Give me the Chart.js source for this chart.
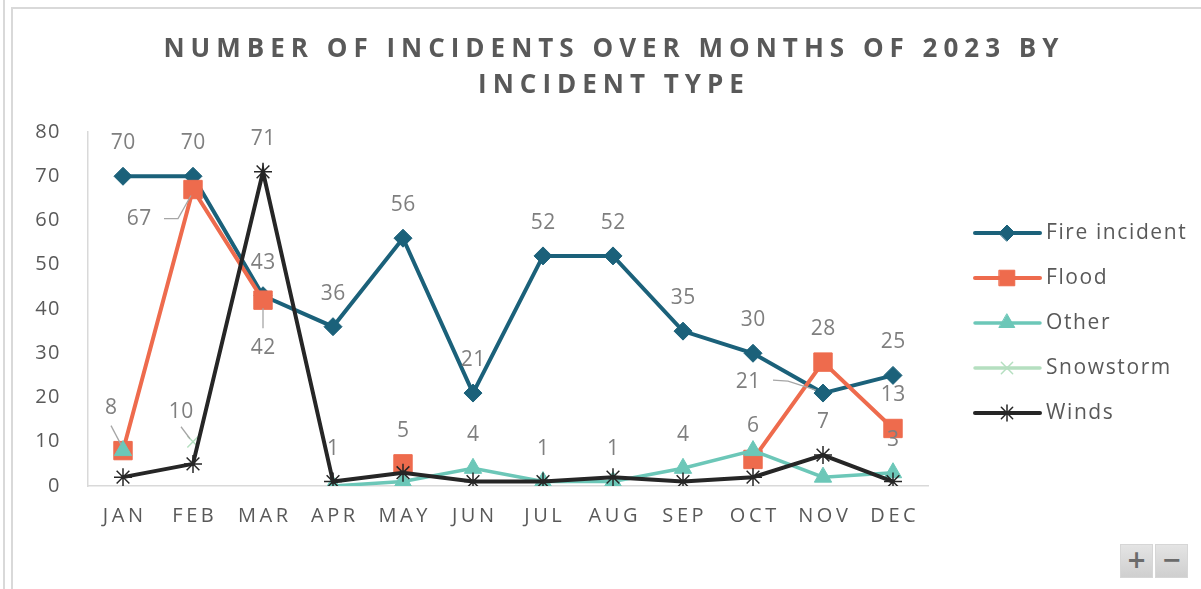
<!DOCTYPE html>
<html>
<head>
<meta charset="utf-8">
<script src="https://cdn.jsdelivr.net/npm/chart.js@4.4.1/dist/chart.umd.min.js"></script>
<style>
  html, body { margin: 0; padding: 0; background: #fff; }
  #wrap { position: relative; width: 1201px; height: 589px; overflow: hidden; background: #fff; }
  #chart { position: absolute; left: 0; top: 0; }
  .frame { position: absolute; background: #d9d9d9; }
  #title {
    position: absolute; left: 0; top: 29px; width: 1228px; text-align: center;
    font-family: "Open Sans", sans-serif; font-weight: bold; font-size: 26px;
    line-height: 36px; letter-spacing: 6px; color: #595959; white-space: nowrap;
  }
  .zbtn {
    position: absolute; top: 544px; width: 33px; height: 34px;
    background: linear-gradient(#e4e4e4, #cfcfcf); border: 1px solid #d6d6d6; box-sizing: border-box;
    color: #6b6b6b; font-family: "DejaVu Sans", sans-serif; font-size: 24px; font-weight: bold;
    line-height: 31px; text-align: center;
  }
</style>
</head>
<body>
<div id="wrap">
  <div class="frame" style="left:3px;top:0;width:2px;height:589px"></div>
  <div class="frame" style="left:11px;top:7px;width:2px;height:582px"></div>
  <div class="frame" style="left:11px;top:7px;width:1190px;height:2px"></div>
  <canvas id="chart" width="1201" height="589"></canvas>
  <div id="title">NUMBER OF INCIDENTS OVER MONTHS OF 2023 BY<br>INCIDENT TYPE</div>
  <div class="zbtn" style="left:1120px">+</div>
  <div class="zbtn" style="left:1155px">&minus;</div>
</div>
<script>
// months on the x axis
var months = ['JAN', 'FEB', 'MAR', 'APR', 'MAY', 'JUN', 'JUL', 'AUG', 'SEP', 'OCT', 'NOV', 'DEC'];
var yTicks = [0, 10, 20, 30, 40, 50, 60, 70, 80];

// values (null = no point that month)
var fireIncident = [70, 70, 43, 36, 56, 21, 52, 52, 35, 30, 21, 25];
var flood        = [8, 67, 42, null, 5, null, null, null, null, 6, 28, 13];
var other        = [8, null, null, 0, 1, 4, 1, 1, 4, 8, 2, 3];
var snowstorm    = [null, 10, null, null, null, null, null, null, null, null, null, null];
var winds        = [2, 5, 71, 1, 3, 1, 1, 2, 1, 2, 7, 1];

var labelGray = '#7f7f7f';
var axisGray = '#595959';
var fontName = '"Open Sans", sans-serif';

// which points get a value label, and the few that sit away from the point
var labelPlan = [
  { show: [0,1,2,3,4,5,6,7,8,9,10,11], moved: { 10: { dx: -75, dy: -11, leader: [[-50,-13],[-35,-12],[-7,-3]] } } },
  { show: [0,1,2,4,9,10,11], moved: {
      0: { dx: -12, dy: -43, leader: [[-12,-25],[-2,-6]] },
      1: { dx: -54, dy: 29, leader: [[-29,29],[-15,29],[-2,6]] },
      2: { dx: 0, dy: 48, leader: [[0,8],[0,28]] } } },
  { show: [5,6,7,8,11], moved: {} },
  { show: [1], moved: { 1: { dx: -12, dy: -30, leader: [[-12,-15],[-3,-3]] } } },
  { show: [2,3,10], moved: {} }
];

function drawMarker(ctx, style, radius, color, bw, x, y) {
  if (Chart.helpers && Chart.helpers.drawPoint) {
    ctx.save();
    ctx.fillStyle = color;
    ctx.strokeStyle = color;
    ctx.lineWidth = bw;
    Chart.helpers.drawPoint(ctx, { pointStyle: style, radius: radius, rotation: 0, borderWidth: bw }, x, y);
    ctx.restore();
  }
}

function spacedText(ctx, text, cx, cy, spacing) {
  ctx.letterSpacing = spacing + 'px';
  var w = ctx.measureText(text).width - spacing;
  ctx.textAlign = 'left';
  ctx.fillText(text, cx - w / 2, cy);
  ctx.letterSpacing = '0px';
}

var extras = {
  id: 'extras',
  afterDatasetsDraw: function (chart) {
    var ctx = chart.ctx;
    ctx.save();
    ctx.font = '21px ' + fontName;
    ctx.fillStyle = labelGray;
    ctx.textBaseline = 'middle';
    chart.data.datasets.forEach(function (ds, di) {
      var meta = chart.getDatasetMeta(di);
      var plan = labelPlan[di];
      plan.show.forEach(function (i) {
        var v = ds.data[i];
        if (v === null) return;
        var pt = meta.data[i];
        var m = plan.moved[i];
        var dx = m ? m.dx : 0, dy = m ? m.dy : -33;
        if (m && m.leader) {
          ctx.strokeStyle = '#a6a6a6';
          ctx.lineWidth = 1.3;
          ctx.beginPath();
          m.leader.forEach(function (p, k) {
            if (k === 0) ctx.moveTo(pt.x + p[0], pt.y + p[1]);
            else ctx.lineTo(pt.x + p[0], pt.y + p[1]);
          });
          ctx.stroke();
        }
        spacedText(ctx, String(v), pt.x + dx, pt.y + dy, 0.6);
      });
    });
    ctx.restore();
  },
  afterDraw: function (chart) {
    var ctx = chart.ctx;
    var xs = chart.scales.x, ys = chart.scales.y;
    ctx.save();
    ctx.fillStyle = axisGray;
    ctx.textBaseline = 'middle';
    ctx.font = '20px ' + fontName;
    months.forEach(function (m, i) {
      spacedText(ctx, m, xs.getPixelForValue(i), xs.top + 30, 3.6);
    });
    yTicks.forEach(function (t) {
      ctx.letterSpacing = '1.5px';
      ctx.textAlign = 'right';
      ctx.fillText(String(t), ys.right - 27, ys.getPixelForValue(t));
    });
    ctx.letterSpacing = '0px';

    // legend: line sample with marker, then name
    var lx = chart.chartArea.right + 47;
    ctx.font = '21px ' + fontName;
    chart.data.datasets.forEach(function (ds, i) {
      var y = 233 + i * 45;
      ctx.strokeStyle = ds.borderColor;
      ctx.lineWidth = ds.borderWidth;
      ctx.lineCap = 'round';
      ctx.beginPath();
      ctx.moveTo(lx, y);
      ctx.lineTo(lx + 65, y);
      ctx.stroke();
      drawMarker(ctx, ds.pointStyle, ds.legendRadius, ds.borderColor, ds.pointBorderWidth, lx + 32, y);
      ctx.fillStyle = axisGray;
      ctx.letterSpacing = '1.6px';
      ctx.textAlign = 'left';
      ctx.fillText(ds.label, lx + 71, y);
      ctx.letterSpacing = '0px';
    });
    ctx.restore();
  }
};

function series(label, data, color, width, style, radius, legendRadius, bw, order) {
  return {
    label: label, data: data, borderColor: color, backgroundColor: color,
    borderWidth: width, pointStyle: style, pointRadius: radius, pointHoverRadius: radius,
    pointBorderWidth: bw, pointBorderColor: color, pointBackgroundColor: color,
    legendRadius: legendRadius, spanGaps: false, tension: 0, order: order
  };
}

new Chart(document.getElementById('chart'), {
  type: 'line',
  data: {
    labels: months,
    datasets: [
      series('Fire incident', fireIncident, '#1b617a', 4, 'rectRot', 9, 8, 1, 5),
      series('Flood', flood, '#ee6b4d', 4, 'rect', 13, 11, 1, 4),
      series('Other', other, '#6cc7b8', 3.5, 'triangle', 10, 9, 1, 3),
      series('Snowstorm', snowstorm, '#b5dfc0', 3.5, 'crossRot', 8, 8, 1.5, 2),
      series('Winds', winds, '#262626', 4, 'star', 9, 8, 1.5, 1)
    ]
  },
  options: {
    responsive: false,
    animation: false,
    devicePixelRatio: 1,
    layout: { padding: { left: 0, top: 132, right: 273, bottom: 103 } },
    plugins: { legend: { display: false }, title: { display: false }, tooltip: { enabled: false } },
    scales: {
      x: {
        type: 'category', offset: true,
        grid: { display: false, drawTicks: false },
        border: { display: true, color: '#d9d9d9', width: 1.5 },
        ticks: { display: false },
        afterFit: function (s) { s.height = 0; }
      },
      y: {
        min: 0, max: 80,
        grid: { display: false, drawTicks: false },
        border: { display: true, color: '#d9d9d9', width: 1.5 },
        ticks: { display: false, stepSize: 10 },
        afterFit: function (s) { s.width = 88; }
      }
    }
  },
  plugins: [extras]
});
</script>
</body>
</html>
